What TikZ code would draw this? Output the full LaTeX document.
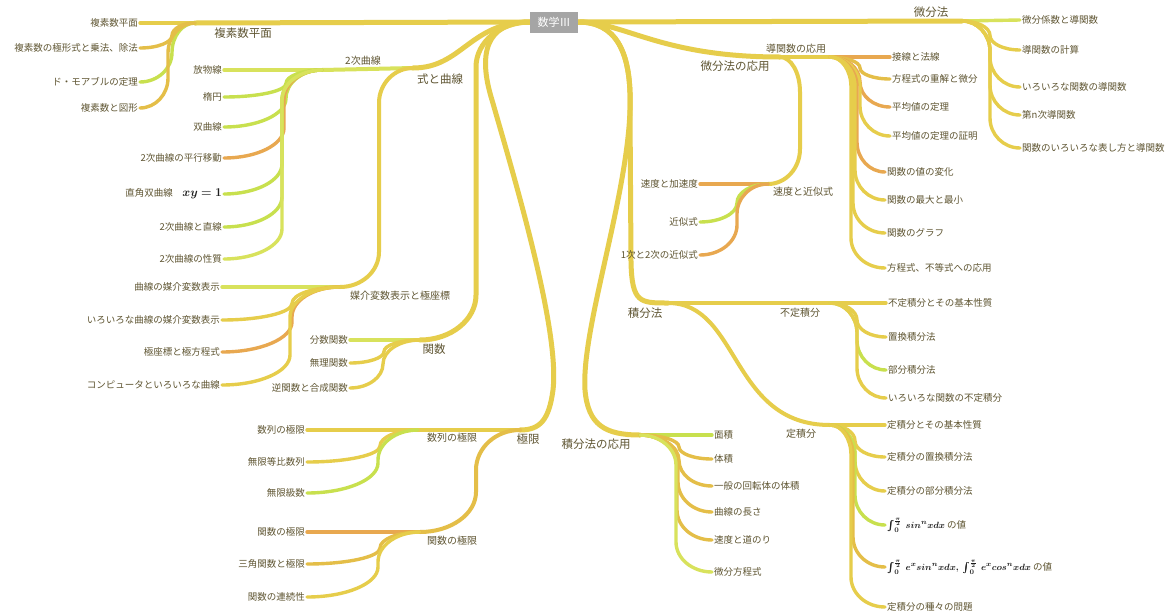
\documentclass[tikz,border=0pt]{standalone}
\usepackage{fontspec}
\usepackage{bm}
\setmainfont{Noto Sans CJK JP}
\usetikzlibrary{calc}
\definecolor{cY}{RGB}{230,205,75}
\definecolor{cG}{RGB}{200,224,78}
\definecolor{cLG}{RGB}{216,226,92}
\definecolor{cO}{RGB}{232,168,80}
\definecolor{cYO}{RGB}{228,190,72}
\definecolor{txt}{RGB}{95,85,50}
\definecolor{mathc}{RGB}{30,30,30}
\definecolor{rootgray}{RGB}{165,165,165}
\pgfdeclarelayer{bg}\pgfsetlayers{bg,main}
\newcommand\brc[5][]{%
  \draw[#1] let \p1=(#2), \p2=(#3),
    \n1={(((\y2)>(\y1))*2-1)},
    \n2={min(#5, abs((\y2)-(\y1))/2)} in
    (\p1) .. controls ({(\x1)+0.552*(#4pt-(\x1))},{\y1}) and ({#4pt},{(\y1)+0.448*(\n1)*(\n2)}) .. ({#4pt},{(\y1)+(\n1)*(\n2)})
    -- ({#4pt},{(\y2)-(\n1)*(\n2)}) .. controls ({#4pt},{(\y2)-0.448*(\n1)*(\n2)}) and ({(\x2)+0.552*(#4pt-(\x2))},{\y2}) .. (\p2);}
\newcommand\bmath[1]{{\color{mathc}$\bm{#1}$}}
\tikzset{
  leaf/.style={font=\fontsize{9.5}{10}\selectfont, text=txt, inner sep=2pt},
  lab/.style={font=\fontsize{10}{11}\selectfont, text=txt, inner sep=1pt},
  mainlab/.style={font=\fontsize{11.5}{12}\selectfont, text=txt, inner sep=1pt},
  rootbox/.style={fill=rootgray, text=white, font=\fontsize{11}{12}\selectfont, minimum width=48pt, minimum height=21pt, inner sep=2pt},
  w1/.style={line width=5pt, line cap=round},
  w2/.style={line width=4pt, line cap=round},
  w3/.style={line width=3.4pt, line cap=round},
}
\begin{document}
\begin{tikzpicture}[x=1pt,y=-1pt]
\useasboundingbox (0,0) rectangle (1173,614);
% root
\node[rootbox] (root) at (554,22) {数学Ⅲ};
% ---- 複素数平面
\coordinate (c1) at (195,23);
\node[mainlab] (L1) at (243,33) {複素数平面};
\node[leaf,anchor=east] (a1) at (140,23) {複素数平面};
\node[leaf,anchor=east] (a2) at (140,48) {複素数の極形式と乗法、除法};
\node[leaf,anchor=east] (a3) at (140,82) {ド・モアブルの定理};
\node[leaf,anchor=east] (a4) at (140,108) {複素数と図形};
% ---- 式と曲線
\coordinate (h2) at (413,68);
\node[mainlab] (L2) at (440,79) {式と曲線};
\coordinate (q) at (322,70);
\node[lab] (L2a) at (363,61) {2次曲線};
\node[leaf,anchor=east] (b1) at (224,70) {放物線};
\node[leaf,anchor=east] (b2) at (224,97) {楕円};
\node[leaf,anchor=east] (b3) at (224,127) {双曲線};
\node[leaf,anchor=east] (b4) at (224,158) {2次曲線の平行移動};
\node[leaf,anchor=east] (b5) at (224,194) {直角双曲線\quad{\fontsize{12.5}{12}\selectfont\bmath{xy=1}}};
\node[leaf,anchor=east] (b6) at (224,227) {2次曲線と直線};
\node[leaf,anchor=east] (b7) at (224,259) {2次曲線の性質};
\coordinate (m) at (340,287);
\node[lab] (L2b) at (400,296) {媒介変数表示と極座標};
\node[leaf,anchor=east] (e1) at (222,287) {曲線の媒介変数表示};
\node[leaf,anchor=east] (e2) at (222,320) {いろいろな曲線の媒介変数表示};
\node[leaf,anchor=east] (e3) at (222,352) {極座標と極方程式};
\node[leaf,anchor=east] (e4) at (222,385) {コンピュータといろいろな曲線};
% ---- 関数
\coordinate (fn) at (420,340);
\node[mainlab] (L3) at (434,349) {関数};
\node[leaf,anchor=east] (f1) at (350,340) {分数関数};
\node[leaf,anchor=east] (f2) at (350,363) {無理関数};
\node[leaf,anchor=east] (f3) at (350,388) {逆関数と合成関数};
% ---- 極限
\coordinate (g) at (520,430);
\node[mainlab] (L4) at (528,439) {極限};
\coordinate (sl) at (418,430);
\node[lab] (L4a) at (452,438) {数列の極限};
\node[leaf,anchor=east] (s1) at (307,430) {数列の極限};
\node[leaf,anchor=east] (s2) at (307,462) {無限等比数列};
\node[leaf,anchor=east] (s3) at (307,493) {無限級数};
\coordinate (fl) at (420,532);
\node[lab] (L4b) at (452,541) {関数の極限};
\node[leaf,anchor=east] (t1) at (307,532) {関数の極限};
\node[leaf,anchor=east] (t2) at (307,564) {三角関数と極限};
\node[leaf,anchor=east] (t3) at (307,597) {関数の連続性};
% ---- 微分法
\coordinate (d) at (962,21);
\node[mainlab] (R1) at (931,12) {微分法};
\node[leaf,anchor=west] (p1) at (1020,20) {微分係数と導関数};
\node[leaf,anchor=west] (p2) at (1020,50) {導関数の計算};
\node[leaf,anchor=west] (p3) at (1020,87) {いろいろな関数の導関数};
\node[leaf,anchor=west] (p4) at (1020,115) {第n次導関数};
\node[leaf,anchor=west] (p5) at (1020,148) {関数のいろいろな表し方と導関数};
% ---- 微分法の応用
\coordinate (da) at (780,57);
\node[mainlab] (R2) at (735,66) {微分法の応用};
\coordinate (dh) at (830,57);
\node[lab] (R2a) at (796,49) {導関数の応用};
\node[leaf,anchor=west] (u1) at (890,57) {接線と法線};
\node[leaf,anchor=west] (u2) at (890,79) {方程式の重解と微分};
\node[leaf,anchor=west] (u3) at (890,107) {平均値の定理};
\node[leaf,anchor=west] (u4) at (890,136) {平均値の定理の証明};
\node[leaf,anchor=west] (u5) at (885,172) {関数の値の変化};
\node[leaf,anchor=west] (u6) at (885,200) {関数の最大と最小};
\node[leaf,anchor=west] (u7) at (885,233) {関数のグラフ};
\node[leaf,anchor=west] (u8) at (885,268) {方程式、不等式への応用};
\coordinate (sa) at (768,184);
\node[lab] (R2b) at (803,192) {速度と近似式};
\node[leaf,anchor=east] (v1) at (700,184) {速度と加速度};
\node[leaf,anchor=east] (v2) at (700,222) {近似式};
\node[leaf,anchor=east] (v3) at (700,255) {1次と2次の近似式};
% ---- 積分法
\coordinate (ib) at (668,303);
\node[mainlab] (R3) at (645,313) {積分法};
\coordinate (fu) at (830,303);
\node[lab] (R3a) at (800,313) {不定積分};
\node[leaf,anchor=west] (x1) at (886,303) {不定積分とその基本性質};
\node[leaf,anchor=west] (x2) at (886,337) {置換積分法};
\node[leaf,anchor=west] (x3) at (886,370) {部分積分法};
\node[leaf,anchor=west] (x4) at (886,398) {いろいろな関数の不定積分};
\coordinate (tk) at (830,425);
\node[lab] (R3b) at (801,434) {定積分};
\node[leaf,anchor=west] (y1) at (885,425) {定積分とその基本性質};
\node[leaf,anchor=west] (y2) at (885,457) {定積分の置換積分法};
\node[leaf,anchor=west] (y3) at (885,491) {定積分の部分積分法};
\node[leaf,anchor=west] (y4) at (885,525) {\bmath{\int_0^{\frac{\pi}{2}}\ sin^n xdx}\ の値};
\node[leaf,anchor=west] (y5) at (885,567) {\bmath{\int_0^{\frac{\pi}{2}}\ e^x sin^n xdx,\ \int_0^{\frac{\pi}{2}}\ e^x cos^n xdx}\ の値};
\node[leaf,anchor=west] (y6) at (885,607) {定積分の種々の問題};
% ---- 積分法の応用
\coordinate (io) at (640,435);
\node[mainlab] (R4) at (596,444) {積分法の応用};
\node[leaf,anchor=west] (z1) at (712,435) {面積};
\node[leaf,anchor=west] (z2) at (712,459) {体積};
\node[leaf,anchor=west] (z3) at (712,486) {一般の回転体の体積};
\node[leaf,anchor=west] (z4) at (712,512) {曲線の長さ};
\node[leaf,anchor=west] (z5) at (712,540) {速度と道のり};
\node[leaf,anchor=west] (z6) at (712,572) {微分方程式};

\begin{pgfonlayer}{bg}
\fill[white] (0,0) rectangle (1173,614);
% 複素数平面
\draw[w1,cY] (root.west) -- (c1);
\draw[w3,cY] (c1) -- (a1.east);
\brc[w3,cYO]{c1}{a2.east}{172}{30}
\brc[w3,cG]{c1}{a3.east}{172}{30}
\brc[w3,cYO]{c1}{a4.east}{168}{30}
% 式と曲線
\draw[w1,cY] (root.west) .. controls (470,22) and (462,68) .. (h2);
\draw[w2,cLG] (h2) -- (q);
\draw[w3,cLG] (q) -- (b1.east);
\brc[w3,cG]{q}{b2.east}{286}{30}
\brc[w3,cG]{q}{b3.east}{286}{30}
\brc[w3,cO]{q}{b4.east}{284}{30}
\brc[w3,cG]{q}{b5.east}{282}{30}
\brc[w3,cG]{q}{b6.east}{282}{30}
\brc[w3,cLG]{q}{b7.east}{282}{30}
\brc[w2,cY]{h2}{m}{379}{35}
\draw[w3,cLG] (m) -- (e1.east);
\brc[w3,cY]{m}{e2.east}{292}{30}
\brc[w3,cO]{m}{e3.east}{292}{30}
\brc[w3,cY]{m}{e4.east}{290}{30}
% 関数
\brc[w1,cY]{root.west}{fn}{476}{45}
\draw[w3,cLG] (fn) -- (f1.east);
\brc[w3,cY]{fn}{f2.east}{384}{30}
\brc[w3,cY]{fn}{f3.east}{383}{30}
% 極限
\draw[w1,cY] (root.west) .. controls (485,22) and (478,55) .. (492,100) .. controls (515,180) and (560,330) .. (553,390) .. controls (549,420) and (540,430) .. (g);
\draw[w2,cY] (g) -- (sl);
\draw[w3,cY] (sl) -- (s1.east);
\brc[w3,cY]{sl}{s2.east}{380}{30}
\brc[w3,cG]{sl}{s3.east}{378}{30}
\brc[w2,cYO]{g}{fl}{476}{40}
\draw[w3,cO] (fl) -- (t1.east);
\brc[w3,cYO]{fl}{t2.east}{380}{30}
\brc[w3,cY]{fl}{t3.east}{378}{30}
% 微分法
\draw[w1,cY] (root.east) -- (d);
\draw[w3,cLG] (d) -- (p1.west);
\brc[w3,cY]{d}{p2.west}{990}{30}
\brc[w3,cY]{d}{p3.west}{990}{30}
\brc[w3,cY]{d}{p4.west}{990}{30}
\brc[w3,cY]{d}{p5.west}{990}{30}
% 微分法の応用
\draw[w1,cY] (root.east) .. controls (625,22) and (660,57) .. (da);
\draw[w2,cY] (da) -- (dh);
\draw[w3,cO] (dh) -- (u1.west);
\brc[w3,cYO]{dh}{u2.west}{860}{30}
\brc[w3,cO]{dh}{u3.west}{860}{30}
\brc[w3,cY]{dh}{u4.west}{860}{30}
\brc[w3,cO]{dh}{u5.west}{857}{30}
\brc[w3,cY]{dh}{u6.west}{855}{30}
\brc[w3,cY]{dh}{u7.west}{853}{30}
\brc[w3,cY]{dh}{u8.west}{851}{30}
\brc[w2,cY]{da}{sa}{800}{35}
\draw[w3,cO] (sa) -- (v1.east);
\brc[w3,cG]{sa}{v2.east}{737}{30}
\brc[w3,cO]{sa}{v3.east}{737}{30}
% 積分法
\draw[w1,cY] (root.east) .. controls (615,22) and (632,50) .. (630,110) -- (631,262) .. controls (632,303) and (640,303) .. (ib);
\draw[w2,cY] (ib) -- (fu);
\draw[w3,cY] (fu) -- (x1.west);
\brc[w3,cY]{fu}{x2.west}{857}{30}
\brc[w3,cG]{fu}{x3.west}{857}{30}
\brc[w3,cY]{fu}{x4.west}{857}{30}
\draw[w2,cY] (ib) .. controls (740,303) and (730,425) .. (tk);
\draw[w3,cY] (tk) -- (y1.west);
\brc[w3,cY]{tk}{y2.west}{855}{30}
\brc[w3,cY]{tk}{y3.west}{855}{30}
\brc[w3,cG]{tk}{y4.west}{855}{30}
\brc[w3,cYO]{tk}{y5.west}{853}{30}
\brc[w3,cY]{tk}{y6.west}{851}{30}
% 積分法の応用
\draw[w1,cY] (root.east) .. controls (615,22) and (632,50) .. (630,110) .. controls (627,200) and (581,330) .. (585,390) .. controls (588,425) and (605,435) .. (io);
\draw[w3,cG] (io) -- (z1.west);
\brc[w3,cYO]{io}{z2.west}{679}{30}
\brc[w3,cYO]{io}{z3.west}{679}{30}
\brc[w3,cYO]{io}{z4.west}{678}{30}
\brc[w3,cYO]{io}{z5.west}{677}{30}
\brc[w3,cLG]{io}{z6.west}{676}{30}
\end{pgfonlayer}
\end{tikzpicture}
\end{document}
